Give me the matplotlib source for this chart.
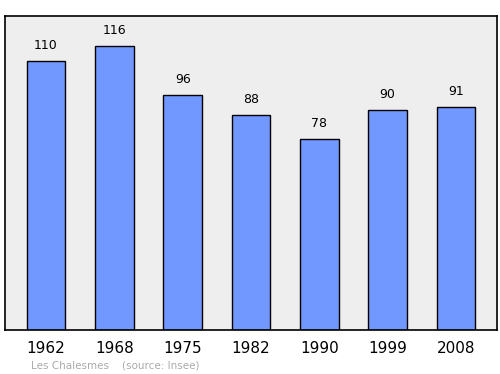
import matplotlib
matplotlib.use("Agg")
import matplotlib.pyplot as plt

# population by census year
years = ["1962", "1968", "1975", "1982", "1990", "1999", "2008"]
population = [110, 116, 96, 88, 78, 90, 91]

fig = plt.figure(figsize=(5, 3.74), dpi=100)
ax = fig.add_axes([5 / 500, 1 - 330 / 374, 492 / 500, 314 / 374])
ax.set_facecolor("#eeeeee")

x = range(len(years))
ax.bar(x, population, width=0.57, color="#7098ff", edgecolor="black", linewidth=1, zorder=2)

for xi, v in zip(x, population):
    ax.text(xi, v + 3.7, str(v), ha="center", va="bottom", fontsize=9)

ax.set_xlim(-0.6, 6.6)
ax.set_ylim(0, 128.3)
ax.set_yticks([])
ax.set_xticks(list(x))
ax.set_xticklabels(years, fontsize=11)
ax.tick_params(axis="x", length=0, pad=8)
for s in ax.spines.values():
    s.set_linewidth(1.2)

fig.text(31 / 500, 1 - 365 / 374, "Les Chalesmes    (source: Insee)", fontsize=7.5,
         color="#aaaaaa", ha="left", va="center")

fig.savefig("out.png", dpi=100)
